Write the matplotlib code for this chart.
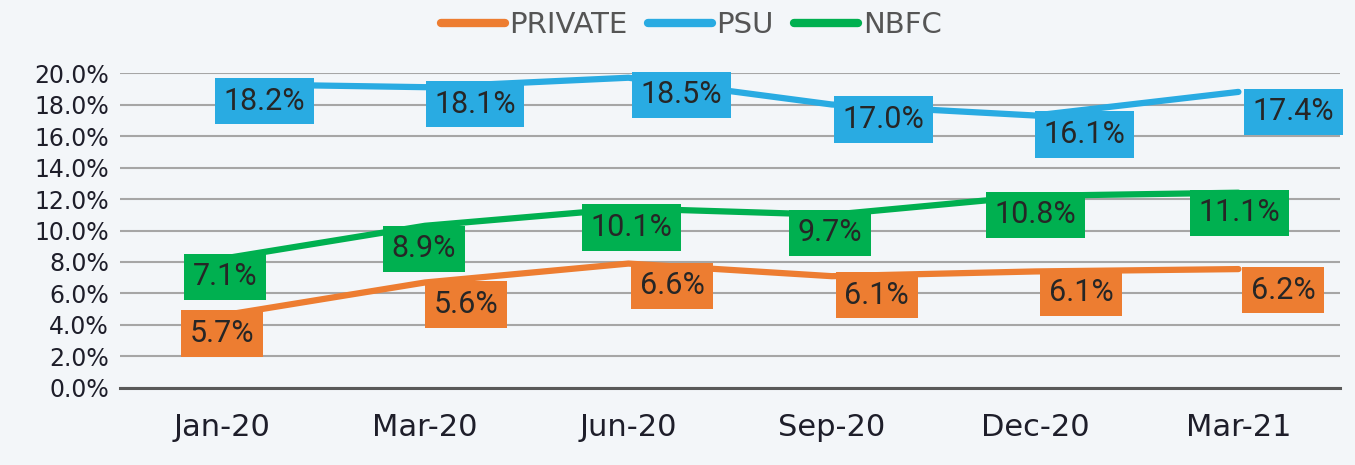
import matplotlib
matplotlib.use("Agg")
import matplotlib.pyplot as plt
from matplotlib.ticker import FuncFormatter

# quarters on the x axis
quarters = ["Jan-20", "Mar-20", "Jun-20", "Sep-20", "Dec-20", "Mar-21"]

# where the lines are drawn
private_line = [4.6, 6.7, 7.9, 7.1, 7.4, 7.55]
psu_line = [19.3, 19.1, 19.7, 18.0, 17.3, 18.8]
nbfc_line = [8.2, 10.3, 11.4, 11.0, 12.2, 12.4]

# printed values in the label boxes
private_lbl = [5.7, 5.6, 6.6, 6.1, 6.1, 6.2]
psu_lbl = [18.2, 18.1, 18.5, 17.0, 16.1, 17.4]
nbfc_lbl = [7.1, 8.9, 10.1, 9.7, 10.8, 11.1]

# label box offsets from the point, pixels (dx, dy)
private_off = [(0, -18), (41, -22), (44, -22), (45, -19), (46, -21), (45, -21)]
psu_off = [(43, -17), (50, -17), (53, -17), (52, -15), (49, -19), (55, -20)]
nbfc_off = [(3, -18), (-1, -23), (3, -19), (-2, -18), (0, -19), (1, -20)]

c_private = "#ED7D31"
c_psu = "#29ABE2"
c_nbfc = "#00B050"

fig = plt.figure(figsize=(13.55, 4.65), dpi=100)
fig.patch.set_facecolor("#f3f6f9")
ax = fig.add_axes([0.0886, 0.1656, 0.9004, 0.6774])
ax.set_facecolor("none")

x = list(range(len(quarters)))
series = [
    ("PRIVATE", private_line, private_lbl, private_off, c_private),
    ("PSU", psu_line, psu_lbl, psu_off, c_psu),
    ("NBFC", nbfc_line, nbfc_lbl, nbfc_off, c_nbfc),
]

for name, yv, lv, off, col in series:
    ax.plot(x, yv, color=col, lw=4.5, label=name, zorder=3, solid_capstyle="round")

for name, yv, lv, off, col in series:
    for i in x:
        ax.annotate("{:.1f}%".format(lv[i]), (i, yv[i]), xytext=off[i],
                    textcoords="offset pixels", ha="center", va="center",
                    fontsize=22, color="#262626",
                    family=["Roboto", "DejaVu Sans"],
                    bbox=dict(boxstyle="square,pad=0.28", fc=col, ec="none"),
                    zorder=5, annotation_clip=False)

ax.set_xlim(-0.5, len(quarters) - 0.5)
ax.set_ylim(0, 20)
ax.set_yticks(range(0, 21, 2))
ax.yaxis.set_major_formatter(FuncFormatter(lambda v, p: "{:.1f}%".format(v)))
ax.set_xticks(x)
ax.set_xticklabels(quarters)
ax.grid(axis="y", color="#a6a6a6", lw=1.5, zorder=1)
ax.set_axisbelow(True)
for s in ["top", "right", "left"]:
    ax.spines[s].set_visible(False)
ax.spines["bottom"].set_color("#595959")
ax.spines["bottom"].set_linewidth(2.2)
ax.spines["bottom"].set_zorder(2)
ax.tick_params(axis="both", length=0)
ax.tick_params(axis="y", labelsize=17, pad=8, labelcolor="#1e1e2a")
ax.tick_params(axis="x", labelsize=22, pad=18, labelcolor="#1e1e2a")

leg = fig.legend(loc="center", bbox_to_anchor=(0.51, 0.946), ncol=3, frameon=False,
                 fontsize=21, handlelength=2.2, handletextpad=0.15, columnspacing=0.7,
                 labelcolor="#555555")
for h in leg.get_lines():
    h.set_linewidth(6)
    h.set_solid_capstyle("round")

fig.savefig("out.png", dpi=100, facecolor=fig.get_facecolor())
